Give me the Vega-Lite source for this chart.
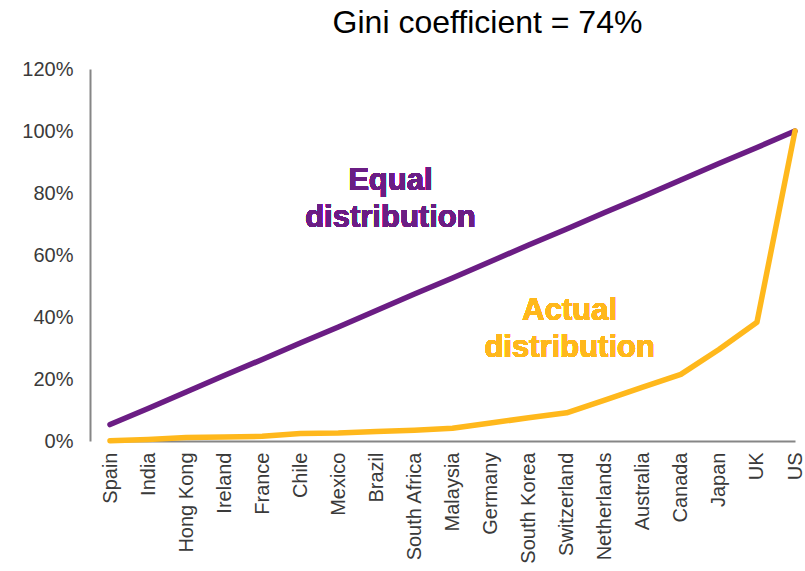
{
  "$schema": "https://vega.github.io/schema/vega-lite/v6.json",
  "width": 715,
  "height": 372,
  "autosize": {"type": "none"},
  "padding": {"left": 90, "top": 69, "right": 0, "bottom": 130},
  "background": "white",
  "config": {"view": {"stroke": null}, "font": "Liberation Sans"},
  "title": {
    "text": "Gini coefficient = 74%",
    "font": "Liberation Sans",
    "fontSize": 32,
    "fontWeight": "normal",
    "color": "#000000",
    "anchor": "middle",
    "dx": 40,
    "offset": 19
  },
  "data": {
    "values": [
      {"country": "Spain", "series": "Equal", "value": 5.3},
      {"country": "India", "series": "Equal", "value": 10.5},
      {"country": "Hong Kong", "series": "Equal", "value": 15.8},
      {"country": "Ireland", "series": "Equal", "value": 21.1},
      {"country": "France", "series": "Equal", "value": 26.3},
      {"country": "Chile", "series": "Equal", "value": 31.6},
      {"country": "Mexico", "series": "Equal", "value": 36.8},
      {"country": "Brazil", "series": "Equal", "value": 42.1},
      {"country": "South Africa", "series": "Equal", "value": 47.4},
      {"country": "Malaysia", "series": "Equal", "value": 52.6},
      {"country": "Germany", "series": "Equal", "value": 57.9},
      {"country": "South Korea", "series": "Equal", "value": 63.2},
      {"country": "Switzerland", "series": "Equal", "value": 68.4},
      {"country": "Netherlands", "series": "Equal", "value": 73.7},
      {"country": "Australia", "series": "Equal", "value": 78.9},
      {"country": "Canada", "series": "Equal", "value": 84.2},
      {"country": "Japan", "series": "Equal", "value": 89.5},
      {"country": "UK", "series": "Equal", "value": 94.7},
      {"country": "US", "series": "Equal", "value": 100},
      {"country": "Spain", "series": "Actual", "value": 0.1},
      {"country": "India", "series": "Actual", "value": 0.5},
      {"country": "Hong Kong", "series": "Actual", "value": 1.1},
      {"country": "Ireland", "series": "Actual", "value": 1.3},
      {"country": "France", "series": "Actual", "value": 1.5},
      {"country": "Chile", "series": "Actual", "value": 2.4},
      {"country": "Mexico", "series": "Actual", "value": 2.6},
      {"country": "Brazil", "series": "Actual", "value": 3.1},
      {"country": "South Africa", "series": "Actual", "value": 3.5},
      {"country": "Malaysia", "series": "Actual", "value": 4.1},
      {"country": "Germany", "series": "Actual", "value": 5.8},
      {"country": "South Korea", "series": "Actual", "value": 7.5},
      {"country": "Switzerland", "series": "Actual", "value": 9.1},
      {"country": "Netherlands", "series": "Actual", "value": 13.2},
      {"country": "Australia", "series": "Actual", "value": 17.4},
      {"country": "Canada", "series": "Actual", "value": 21.5},
      {"country": "Japan", "series": "Actual", "value": 29.5},
      {"country": "UK", "series": "Actual", "value": 38.3},
      {"country": "US", "series": "Actual", "value": 100}
    ]
  },
  "encoding": {
    "x": {
      "field": "country",
      "type": "ordinal",
      "sort": ["Spain", "India", "Hong Kong", "Ireland", "France", "Chile", "Mexico", "Brazil", "South Africa", "Malaysia", "Germany", "South Korea", "Switzerland", "Netherlands", "Australia", "Canada", "Japan", "UK", "US"],
      "scale": {"type": "point", "range": [20, 705], "padding": 0},
      "axis": {
        "title": null,
        "labelAngle": -90,
        "labelAlign": "right",
        "labelBaseline": "middle",
        "labelFontSize": 20,
        "labelFont": "Liberation Sans",
        "labelColor": "#3a3a3a",
        "labelPadding": 11,
        "ticks": false,
        "domainColor": "#868686",
        "domainWidth": 2,
        "grid": false,
        "labelOverlap": false
      }
    },
    "y": {
      "field": "value",
      "type": "quantitative",
      "scale": {"domain": [0, 120], "nice": false},
      "axis": {
        "title": null,
        "values": [0, 20, 40, 60, 80, 100, 120],
        "labelExpr": "datum.value + '%'",
        "labelFontSize": 20,
        "labelFont": "Liberation Sans",
        "labelColor": "#3a3a3a",
        "labelPadding": 17,
        "ticks": false,
        "domainColor": "#868686",
        "domainWidth": 2,
        "grid": false
      }
    }
  },
  "layer": [
    {
      "mark": {"type": "line", "strokeWidth": 5.5, "strokeCap": "round", "strokeJoin": "round"},
      "encoding": {
        "color": {
          "field": "series",
          "type": "nominal",
          "scale": {"domain": ["Equal", "Actual"], "range": ["#6B1D84", "#FFB81C"]},
          "legend": null
        }
      }
    },
    {
      "mark": {
        "type": "text",
        "text": ["Equal", "distribution"],
        "font": "Liberation Sans",
        "fontSize": 31,
        "fontWeight": "bold",
        "fill": "#6B1D84",
        "align": "center",
        "baseline": "alphabetic",
        "lineHeight": 37,
        "dx": 14
      },
      "encoding": {
        "x": {"datum": "Brazil"},
        "y": {"datum": 81}
      }
    },
    {
      "mark": {
        "type": "text",
        "text": ["Actual", "distribution"],
        "font": "Liberation Sans",
        "fontSize": 31,
        "fontWeight": "bold",
        "fill": "#FFB81C",
        "align": "center",
        "baseline": "alphabetic",
        "lineHeight": 37,
        "dx": 3
      },
      "encoding": {
        "x": {"datum": "Switzerland"},
        "y": {"datum": 39}
      }
    }
  ]
}
